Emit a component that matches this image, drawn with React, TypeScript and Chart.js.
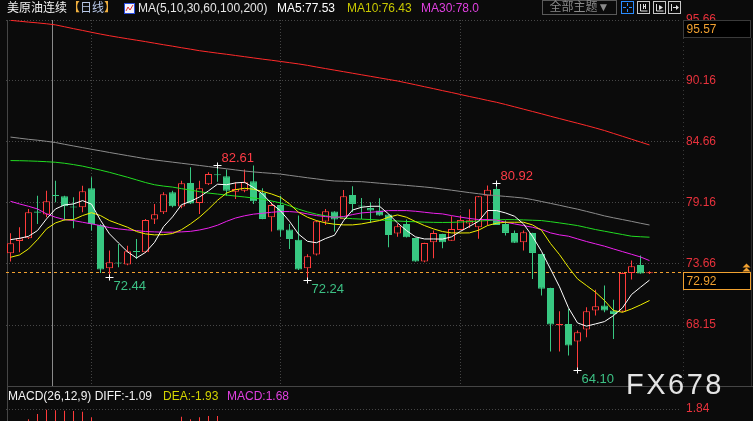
import { useEffect, useRef } from 'react';
import { Chart, registerables } from 'chart.js';

Chart.register(...registerables);

const BG = '#0b0b0b';
const UP = '#ff3b3b';
const DOWN = '#38c882';
const FONT = '"Liberation Sans", "Noto Sans CJK SC", Arial, sans-serif';

// 72 trading days plus 3 empty slots at the right edge
const categories = Array.from({ length: 75 }, (_, i) => `T${i + 1}`);

const open = [74.62,75.73,75.97,78.38,78.11,79.85,79.76,78.80,78.77,80.48,
77.18,73.27,73.75,73.60,74.80,74.71,77.66,78.32,80.12,78.83,
80.96,79.16,80.84,81.72,81.57,80.18,80.27,81.11,80.06,77.87,
78.98,76.76,75.85,73.27,74.50,77.48,78.38,77.72,79.88,78.89,
78.71,78.47,78.11,76.40,77.27,76.00,73.87,75.61,76.37,75.76,
76.73,77.30,76.97,79.82,80.42,77.27,76.46,75.62,76.46,74.56,
71.50,68.13,68.25,66.66,67.74,69.45,69.90,69.45,69.36,72.85,
73.57,72.82];

const high = [76.43,76.97,78.62,79.82,80.27,81.17,79.82,79.67,80.72,81.48,
77.27,74.86,75.46,75.31,75.91,77.72,79.07,80.12,80.27,81.17,
82.38,81.17,81.93,82.61,82.17,81.02,82.17,82.53,80.48,79.22,
79.82,77.27,78.02,74.53,77.57,78.62,78.40,80.33,80.66,79.61,
79.22,79.58,78.13,77.27,77.66,76.02,75.57,76.67,76.39,77.96,
78.02,78.60,79.78,80.73,80.92,77.57,76.67,76.67,76.48,74.58,
71.52,69.39,69.60,67.65,69.75,71.32,71.71,70.42,72.91,73.96,
74.41,73.00];

const low = [73.87,74.71,75.91,77.27,77.87,79.22,77.57,76.88,78.32,76.67,
72.85,72.44,73.36,73.55,74.11,74.65,77.27,78.17,78.77,78.68,
79.07,78.17,80.78,81.08,79.82,79.52,80.12,79.07,77.70,76.58,
76.12,75.01,73.12,72.24,74.41,77.18,76.58,77.70,78.32,77.72,
77.36,78.00,75.16,76.12,76.04,73.85,73.81,74.17,75.07,75.74,
76.71,76.90,75.92,77.12,77.16,76.22,75.54,74.86,72.31,70.81,
65.76,65.76,65.40,64.10,67.05,69.00,69.30,66.90,69.30,72.25,
72.77,72.76];

const close = [75.52,75.97,78.32,78.28,79.31,79.79,78.86,78.74,80.21,77.27,
73.15,73.81,73.69,74.80,74.74,77.63,78.14,79.94,78.86,80.93,
79.10,80.48,81.78,81.66,80.27,80.42,81.02,79.31,77.72,78.98,
76.67,75.91,73.15,74.35,77.51,78.41,77.66,79.76,79.07,78.83,
78.47,78.02,76.28,77.06,76.06,73.87,75.55,76.46,75.61,76.82,
77.63,77.60,79.76,80.36,77.18,76.46,75.56,76.52,74.65,71.41,
68.19,68.25,66.30,67.50,69.39,69.84,69.45,69.15,72.85,73.45,
72.79,72.92];

const ma5 = [75.85,75.97,76.15,76.67,77.72,78.62,78.98,79.07,79.37,79.05,
77.60,76.37,75.55,74.75,74.20,74.70,75.60,77.02,77.90,79.00,
79.30,79.70,80.25,80.85,80.80,80.97,81.02,80.55,79.97,79.10,
78.45,77.50,76.35,75.70,75.57,75.95,76.25,77.55,78.52,78.77,
78.86,78.86,78.17,77.36,76.67,76.10,75.91,75.91,75.90,76.10,
76.60,77.05,77.50,78.48,78.47,78.26,77.96,77.27,76.15,74.80,
73.20,71.60,69.70,68.34,68.05,68.25,68.46,69.00,69.70,70.90,
71.56,72.20];

const ma10 = [74.26,74.47,75.01,75.85,76.82,77.36,77.63,77.66,78.02,78.28,
78.02,77.57,77.27,76.97,76.58,76.37,76.28,76.30,76.40,76.75,
77.27,77.87,78.60,79.40,80.05,80.36,80.48,80.40,80.20,79.97,
79.67,79.07,78.32,77.87,77.57,77.36,77.24,77.18,77.18,77.27,
77.42,77.57,77.87,78.08,77.87,77.48,77.12,76.82,76.58,76.46,
76.45,76.46,76.70,77.12,77.33,77.42,77.42,77.42,77.18,76.70,
75.50,74.50,73.35,72.31,71.71,71.11,70.36,69.45,69.30,69.60,
69.96,70.36];

const ma30 = [79.31,79.07,78.86,78.62,78.17,77.87,77.66,77.57,77.42,77.27,
77.12,76.94,76.82,76.73,76.67,76.58,76.55,76.52,76.52,76.55,
76.60,76.72,76.90,77.15,77.50,77.80,78.00,78.15,78.23,78.32,
78.38,78.38,78.32,78.17,78.02,77.93,77.87,77.93,78.11,78.26,
78.32,78.38,78.47,78.47,78.47,78.41,78.32,78.23,78.17,78.02,
77.88,77.76,77.66,77.66,77.62,77.42,77.27,77.12,76.97,76.76,
76.46,76.28,76.16,75.92,75.68,75.47,75.26,75.01,74.77,74.53,
74.29,73.96];

const ma60 = [82.98,82.97,82.95,82.92,82.88,82.83,82.74,82.62,82.48,82.30,
82.12,81.92,81.70,81.48,81.24,81.00,80.80,80.68,80.59,80.45,
80.32,80.18,80.05,79.96,79.87,79.78,79.70,79.60,79.50,79.34,
79.16,78.90,78.60,78.35,78.15,78.00,77.88,77.80,77.74,77.70,
77.66,77.62,77.57,77.53,77.49,77.46,77.43,77.41,77.40,77.41,
77.44,77.48,77.53,77.57,77.62,77.66,77.65,77.63,77.60,77.57,
77.47,77.36,77.24,77.12,76.94,76.76,76.61,76.46,76.31,76.16,
76.11,76.07];

const ma100 = [85.10,85.00,84.90,84.82,84.72,84.61,84.45,84.30,84.15,84.00,
83.86,83.71,83.57,83.43,83.29,83.15,83.04,82.94,82.84,82.74,
82.64,82.54,82.44,82.34,82.24,82.14,82.04,81.96,81.89,81.83,
81.76,81.65,81.54,81.43,81.33,81.22,81.14,81.12,81.09,81.08,
81.01,80.94,80.87,80.81,80.74,80.67,80.60,80.52,80.41,80.31,
80.20,80.09,79.99,79.89,79.82,79.75,79.68,79.60,79.46,79.29,
79.12,78.95,78.77,78.60,78.40,78.20,77.99,77.82,77.66,77.50,
77.33,77.17];

const ma200 = [95.63,95.55,95.47,95.40,95.32,95.22,95.05,94.88,94.72,94.55,
94.39,94.24,94.10,93.97,93.84,93.71,93.57,93.43,93.30,93.16,
93.03,92.89,92.78,92.67,92.57,92.46,92.35,92.24,92.13,92.03,
91.92,91.81,91.70,91.57,91.42,91.28,91.14,91.00,90.86,90.72,
90.58,90.44,90.30,90.16,89.99,89.82,89.64,89.47,89.29,89.12,
88.94,88.76,88.59,88.41,88.24,88.04,87.83,87.62,87.41,87.20,
86.98,86.77,86.56,86.35,86.14,85.92,85.69,85.43,85.17,84.91,
84.65,84.39];

// MACD histogram: only the bar tops that reach into the visible strip are readable
const macdHist = [null,null,1.29,1.57,1.80,1.78,1.75,1.73,1.70,1.40,
null,null,null,null,null,null,null,null,null,1.43,
1.29,1.40,1.47,1.47,null,null,null,null,null,null,
null,null,null,null,null,null,null,null,null,null,
null,null,null,null,null,null,null,null,null,null,
null,null,null,null,null,null,null,null,null,null,
null,null,null,null,null,null,null,null,null,null,
null,null];

const yTicks = [68.15, 73.66, 79.16, 84.66, 90.16, 95.66];
const macdTicks = [1.84];
const monthStarts = [9, 30, 50];
const crosshairIndex = 4.7;
const topPrice = 95.57;
const extremes = [
  { index: 23, value: 82.61, kind: 'high' },
  { index: 54, value: 80.92, kind: 'high' },
  { index: 11, value: 72.44, kind: 'low' },
  { index: 33, value: 72.24, kind: 'low' },
  { index: 63, value: 64.1, kind: 'low' },
];

const isUp = (i: number) => close[i] >= open[i];

function seg(ctx: any, x1: number, y1: number, x2: number, y2: number) {
  ctx.beginPath();
  ctx.moveTo(x1, y1);
  ctx.lineTo(x2, y2);
  ctx.stroke();
}

const overlayPlugin = {
  id: 'priceOverlay',
  beforeDatasetsDraw(chart: any) {
    const { ctx, chartArea: a, scales } = chart;
    const xs = scales.x;
    const ys = scales.y;
    ctx.save();
    ctx.lineWidth = 1;
    ctx.strokeStyle = '#444444';
    ctx.setLineDash([1, 2]);
    for (const i of monthStarts) {
      const px = Math.floor(xs.getPixelForValue(i)) + 0.5;
      seg(ctx, px, a.top, px, a.bottom);
    }
    ctx.setLineDash([1, 3]);
    ctx.strokeStyle = '#3a3a3a';
    const rx = Math.floor(a.right) + 2.5;
    seg(ctx, rx, a.top + 18, rx, a.bottom);
    ctx.setLineDash([]);
    ctx.strokeStyle = '#8a8a8a';
    const cx = Math.floor(xs.getPixelForValue(crosshairIndex)) + 0.5;
    seg(ctx, cx, a.top, cx, a.bottom);
    const last = close[close.length - 1];
    const ly = Math.floor(ys.getPixelForValue(last)) + 0.5;
    ctx.strokeStyle = '#f0a030';
    ctx.setLineDash([3, 3]);
    seg(ctx, a.left, ly, a.right + 2, ly);
    ctx.restore();
  },
  afterDraw(chart: any) {
    const { ctx, chartArea: a, scales } = chart;
    const xs = scales.x;
    const ys = scales.y;
    ctx.save();
    ctx.lineWidth = 1;
    ctx.setLineDash([]);
    // extreme markers
    for (const e of extremes) {
      const px = Math.floor(xs.getPixelForValue(e.index)) + 0.5;
      const py = Math.round(ys.getPixelForValue(e.value)) + 0.5;
      ctx.strokeStyle = '#ffffff';
      seg(ctx, px - 4, py, px + 4, py);
      seg(ctx, px, py - 3, px, py + 3);
      ctx.font = '13px ' + FONT;
      ctx.textAlign = 'left';
      if (e.kind === 'high') {
        ctx.fillStyle = '#ff3c46';
        ctx.textBaseline = 'bottom';
        ctx.fillText(e.value.toFixed(2), px + 4, py - 1);
      } else {
        ctx.fillStyle = '#3cc084';
        ctx.textBaseline = 'top';
        ctx.fillText(e.value.toFixed(2), px + 4, py + 2);
      }
    }
    // price boxes on the axis
    const bx = Math.floor(a.right) + 2.5;
    const bw = 67;
    const drawBox = (top: number, border: string, text: string) => {
      ctx.fillStyle = '#000000';
      ctx.fillRect(bx, top, bw, 17);
      ctx.strokeStyle = border;
      ctx.strokeRect(bx, top, bw, 17);
      ctx.fillStyle = '#f0a030';
      ctx.font = '12px ' + FONT;
      ctx.textBaseline = 'middle';
      ctx.textAlign = 'left';
      ctx.fillText(text, bx + 3, top + 9);
    };
    drawBox(Math.floor(ys.getPixelForValue(topPrice)) + 0.5, '#3a3a3a', topPrice.toFixed(2));
    const last = close[close.length - 1];
    const ly = Math.floor(ys.getPixelForValue(last)) + 0.5;
    drawBox(ly, '#f0a030', last.toFixed(2));
    // small double chevron marker
    ctx.fillStyle = '#f0a030';
    const cx = 746.5;
    for (const off of [8, 4]) {
      ctx.beginPath();
      ctx.moveTo(cx, ly - off - 1);
      ctx.lineTo(cx - 4, ly - off + 3);
      ctx.lineTo(cx + 4, ly - off + 3);
      ctx.closePath();
      ctx.fill();
    }
    ctx.restore();
  },
};

function lineDs(label: string, data: number[], color: string) {
  return {
    type: 'line' as const,
    label,
    data,
    borderColor: color,
    borderWidth: 1,
    pointRadius: 0,
    tension: 0,
    order: 1,
  };
}

export default function App() {
  const mainRef = useRef<HTMLCanvasElement>(null);
  const macdRef = useRef<HTMLCanvasElement>(null);

  useEffect(() => {
    const tickFont = { size: 12, family: FONT };
    const main = new Chart(mainRef.current as HTMLCanvasElement, {
      type: 'bar',
      data: {
        labels: categories,
        datasets: [
          lineDs('MA5', ma5, '#ffffff'),
          lineDs('MA10', ma10, '#f0f000'),
          lineDs('MA30', ma30, '#ee22ee'),
          lineDs('MA60', ma60, '#22dd22'),
          lineDs('MA100', ma100, '#8c8c8c'),
          lineDs('MA200', ma200, '#ff2a2a'),
          {
            type: 'bar',
            label: 'body',
            data: open.map((o, i) => [o, close[i]]),
            backgroundColor: (c: any) => (isUp(c.dataIndex) ? BG : DOWN),
            borderColor: (c: any) => (isUp(c.dataIndex) ? UP : DOWN),
            borderWidth: 1,
            borderSkipped: false,
            barThickness: 7,
            grouped: false,
            minBarLength: 1,
            inflateAmount: 0,
            order: 2,
          },
          {
            type: 'bar',
            label: 'wick',
            data: low.map((l, i) => [l, high[i]]),
            backgroundColor: (c: any) => (isUp(c.dataIndex) ? UP : DOWN),
            borderWidth: 0,
            barThickness: 1,
            grouped: false,
            inflateAmount: 0,
            order: 3,
          },
        ] as any,
      },
      options: {
        animation: false,
        responsive: false,
        maintainAspectRatio: false,
        events: [],
        layout: { padding: { top: 20, left: 6, right: 0, bottom: 35 } },
        plugins: { legend: { display: false }, tooltip: { enabled: false } },
        scales: {
          x: { display: false, offset: true },
          y: {
            position: 'right',
            bounds: 'data',
            min: 62.65,
            max: 95.66,
            afterFit: (s: any) => { s.width = 72; },
            afterBuildTicks: (s: any) => { s.ticks = yTicks.map((v) => ({ value: v })); },
            ticks: {
              color: '#e8323c',
              font: tickFont,
              padding: 5,
              callback: (v: any) => Number(v).toFixed(2),
            },
            grid: { color: '#474747', drawTicks: false, lineWidth: 1 },
            border: { display: false, dash: [1, 2] },
          },
        },
      } as any,
      plugins: [overlayPlugin],
    });

    const macd = new Chart(macdRef.current as HTMLCanvasElement, {
      type: 'bar',
      data: {
        labels: categories,
        datasets: [
          {
            label: 'MACD',
            data: macdHist,
            backgroundColor: UP,
            borderWidth: 0,
            barThickness: 1,
            grouped: false,
            inflateAmount: 0,
          },
        ] as any,
      },
      options: {
        animation: false,
        responsive: false,
        maintainAspectRatio: false,
        events: [],
        layout: { padding: { top: 409, left: 6, right: 0, bottom: 17 } },
        plugins: { legend: { display: false }, tooltip: { enabled: false } },
        scales: {
          x: { display: false, offset: true },
          y: {
            position: 'right',
            bounds: 'data',
            min: 0.56,
            max: 1.84,
            afterFit: (s: any) => { s.width = 72; },
            afterBuildTicks: (s: any) => { s.ticks = macdTicks.map((v) => ({ value: v })); },
            ticks: {
              color: '#e8323c',
              font: tickFont,
              padding: 5,
              callback: (v: any) => Number(v).toFixed(2),
            },
            grid: { color: '#474747', drawTicks: false, lineWidth: 1 },
            border: { display: false, dash: [1, 2] },
          },
        },
      } as any,
    });

    return () => {
      main.destroy();
      macd.destroy();
    };
  }, []);

  const abs = (left: number, top: number, extra: any = {}) => ({
    position: 'absolute' as const,
    left,
    top,
    whiteSpace: 'nowrap' as const,
    fontSize: 12,
    lineHeight: '14px',
    ...extra,
  });

  return (
    <div
      style={{
        position: 'fixed',
        left: 0,
        top: 0,
        width: 753,
        height: 421,
        overflow: 'hidden',
        background: BG,
        fontFamily: FONT,
      }}
    >
      <div style={{ position: 'absolute', left: 7, top: 20, width: 1, height: 401, background: '#454545' }} />
      <div style={{ position: 'absolute', left: 7, top: 386, width: 746, height: 1, background: '#454545' }} />
      <div style={{ position: 'absolute', left: 751, top: 38, width: 1, height: 348, background: '#2a2a2a' }} />
      <canvas ref={mainRef} width={753} height={421} style={{ position: 'absolute', left: 0, top: 0 }} />
      <canvas ref={macdRef} width={753} height={450} style={{ position: 'absolute', left: 0, top: 0 }} />

      {/* header */}
      <span style={abs(7, 1, { color: '#f2f2f2' })}>美原油连续</span>
      <span style={abs(68, 1)}>
        <span style={{ color: '#f0b040' }}>【</span>
        <span style={{ color: '#b8c8e8' }}>日线</span>
        <span style={{ color: '#f0b040' }}>】</span>
      </span>
      <svg style={{ position: 'absolute', left: 124, top: 3 }} width="11" height="11">
        <rect x="0.5" y="0.5" width="10" height="10" fill="#f4f4ff" stroke="#2b4de0" />
        <polyline points="2,8 4,4 6,7 9,2" fill="none" stroke="#e03030" strokeWidth="1" />
      </svg>
      <span style={abs(138, 1, { color: '#e6e6e6' })}>MA(5,10,30,60,100,200)</span>
      <span style={abs(277, 1, { color: '#ffffff' })}>MA5:77.53</span>
      <span style={abs(347, 1, { color: '#c8c800' })}>MA10:76.43</span>
      <span style={abs(421, 1, { color: '#e040e0' })}>MA30:78.0</span>

      <div
        style={{
          position: 'absolute',
          left: 542,
          top: 0,
          width: 73,
          height: 13,
          border: '1px solid #5a5a5a',
          color: '#8a8a8a',
          fontSize: 12,
          lineHeight: '13px',
          textAlign: 'center',
        }}
      >
        全部主题▼
      </div>
      <svg style={{ position: 'absolute', left: 621, top: 1 }} width="13" height="13">
        <rect x="0.5" y="0.5" width="12" height="12" fill="none" stroke="#2a8cff" />
        <path d="M6.5 2v3M6.5 8v3M2 6.5h3M8 6.5h3" stroke="#2a8cff" />
      </svg>
      <svg style={{ position: 'absolute', left: 637, top: 1 }} width="13" height="13">
        <rect x="0.5" y="0.5" width="12" height="12" fill="none" stroke="#c8c8c8" />
        <path d="M3.5 3v7h7M6.5 3v5M8.5 3v5M6.5 5.5h2" stroke="#e0e0e0" fill="none" />
      </svg>
      <svg style={{ position: 'absolute', left: 653, top: 1 }} width="13" height="13">
        <rect x="0.5" y="0.5" width="12" height="12" fill="none" stroke="#c8c8c8" />
        <path d="M3.5 3v7h7" stroke="#e0e0e0" fill="none" />
        <path d="M6 4l4 2.5-4 2.5z" fill="#e0e0e0" />
      </svg>
      <svg style={{ position: 'absolute', left: 668, top: 1 }} width="13" height="13">
        <rect x="0.5" y="0.5" width="12" height="12" fill="none" stroke="#c8c8c8" />
        <path d="M3.5 3v7M5 6.5h4" stroke="#e0e0e0" fill="none" />
        <path d="M8 4l3 2.5-3 2.5z" fill="#e0e0e0" />
      </svg>

      {/* MACD label */}
      <span style={abs(8, 389, { color: '#f2f2f2' })}>MACD(26,12,9) DIFF:-1.09</span>
      <span style={abs(163, 389, { color: '#d4d400' })}>DEA:-1.93</span>
      <span style={abs(227, 389, { color: '#e040e0' })}>MACD:1.68</span>

      {/* watermark */}
      <span
        style={{
          position: 'absolute',
          left: 626,
          top: 367,
          fontSize: 29,
          lineHeight: '34px',
          color: '#e4e4e4',
          letterSpacing: '2.5px',
          fontFamily: '"Liberation Sans", Arial, sans-serif',
          whiteSpace: 'nowrap',
        }}
      >
        FX678
      </span>
    </div>
  );
}
